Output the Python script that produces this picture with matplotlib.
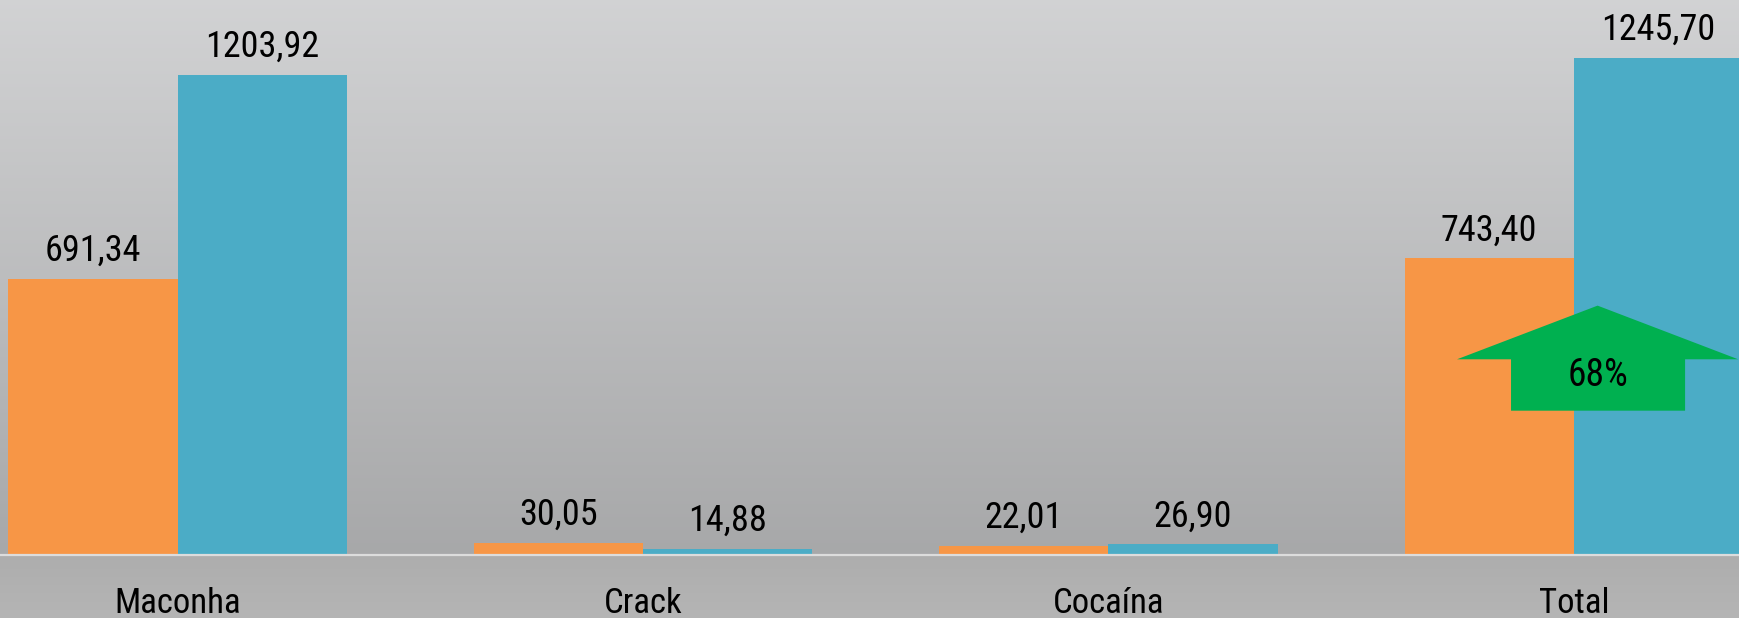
import os
import numpy as np
import matplotlib
matplotlib.use("Agg")
import matplotlib.pyplot as plt
from matplotlib.patches import Polygon
from matplotlib import font_manager as fm

# ---- data ----
categories = ["Maconha", "Crack", "Cocaína", "Total"]
series_a = [691.34, 30.05, 22.01, 743.40]      # orange
series_b = [1203.92, 14.88, 26.90, 1245.70]    # blue

color_a = "#F79646"
color_b = "#4BACC6"
arrow_color = "#00B050"

# ---- font: prefer a narrow sans (Arial Narrow look), else Liberation Sans ----
def pick_narrow():
    prefs = ["liberationsansnarrow-regular", "arialnarrow", "arialn.",
             "robotocondensed-regular", "notosans-condensed.", "notosanscondensed-regular",
             "notosans-condensedregular", "opensans-condensed", "opensanscondensed-regular",
             "dejavusanscondensed."]
    files = [f.fname for f in fm.fontManager.ttflist]
    low = {os.path.basename(p).lower(): p for p in files}
    for key in prefs:
        for name, p in low.items():
            if name.startswith(key) or key in name:
                return p
    for f in fm.fontManager.ttflist:
        n = (f.name + " " + os.path.basename(f.fname)).lower()
        if ("narrow" in n or "condensed" in n) and f.style == "normal" \
                and f.weight in (400, "normal", "regular") and "bold" not in n \
                and "light" not in n and "semi" not in n and "medium" not in n \
                and "extra" not in n and "italic" not in n and "mono" not in n:
            return f.fname
    return None

narrow = pick_narrow()
if narrow:
    def FP(size):
        return fm.FontProperties(fname=narrow, size=size)
    VAL_SIZE, CAT_SIZE, PCT_SIZE = 26, 25, 27
else:
    def FP(size):
        return fm.FontProperties(family=["Liberation Sans", "DejaVu Sans"], size=size)
    VAL_SIZE, CAT_SIZE, PCT_SIZE = 25, 24.5, 25

W, H, DPI = 1740, 618, 100
fig = plt.figure(figsize=(W / DPI, H / DPI), dpi=DPI)

# background gradient over whole figure
bg = fig.add_axes([0, 0, 1, 1], zorder=0)
bg.set_axis_off()
rows = np.arange(H)
vals = np.empty(H)
axis_px = 555
above = rows < axis_px
vals[above] = 0.822 - (0.822 - 0.655) * rows[above] / axis_px
below = ~above
vals[below] = 0.68 + 0.03 * (rows[below] - axis_px) / (H - axis_px)
rgb = np.stack([vals, vals + 0.003 * above, vals + 0.008 * above], axis=-1)
img = np.repeat(rgb[:, None, :], 2, axis=1)
bg.imshow(np.clip(img, 0, 1), aspect="auto", extent=[0, 1, 0, 1], origin="upper",
          interpolation="bilinear")
bg.set_xlim(0, 1)
bg.set_ylim(0, 1)

# main axes
ax = fig.add_axes([0, (H - axis_px) / H, 1, axis_px / H], zorder=1)
ax.patch.set_alpha(0)
for s in ax.spines.values():
    s.set_visible(False)
ax.set_xticks([])
ax.set_yticks([])

x = np.arange(len(categories))
w = 0.3638
ax.bar(x - w / 2, series_a, w, color=color_a, zorder=2)
ax.bar(x + w / 2, series_b, w, color=color_b, zorder=2)
ax.set_xlim(-0.3818, 3.357)
ax.set_ylim(0, 1391)
ax.axhline(0, color="#DCDCDC", lw=1.6, zorder=3, clip_on=False)

def fmt(v):
    return f"{v:.2f}".replace(".", ",")

for xi, va_, vb_ in zip(x, series_a, series_b):
    for xc, v in ((xi - w / 2, va_), (xi + w / 2, vb_)):
        ax.annotate(fmt(v), (xc, v), xytext=(0, 18), textcoords="offset pixels",
                    ha="center", va="baseline", fontproperties=FP(VAL_SIZE),
                    color="black", zorder=4)

for xi, c in zip(x, categories):
    ax.annotate(c, (xi, 0), xycoords=("data", "axes fraction"), xytext=(0, -58),
                textcoords="offset pixels", ha="center", va="baseline",
                fontproperties=FP(CAT_SIZE), color="black", annotation_clip=False)

# growth arrow on the Total group
t = 3
ax_tip = t + 0.051
shape = [
    (ax_tip, 625),
    (t + 0.353, 490.5),
    (t + 0.239, 490.5),
    (t + 0.239, 361.7),
    (t - 0.135, 361.7),
    (t - 0.135, 490.5),
    (t - 0.251, 490.5),
]
ax.add_patch(Polygon(shape, closed=True, facecolor=arrow_color, edgecolor="none",
                     zorder=5, clip_on=False))
pct = (series_b[3] / series_a[3] - 1) * 100
ax.text(ax_tip, 423.6, f"{pct:.0f}%", ha="center", va="baseline",
        fontproperties=FP(PCT_SIZE), color="black", zorder=6)

fig.savefig("out.png", dpi=DPI)
